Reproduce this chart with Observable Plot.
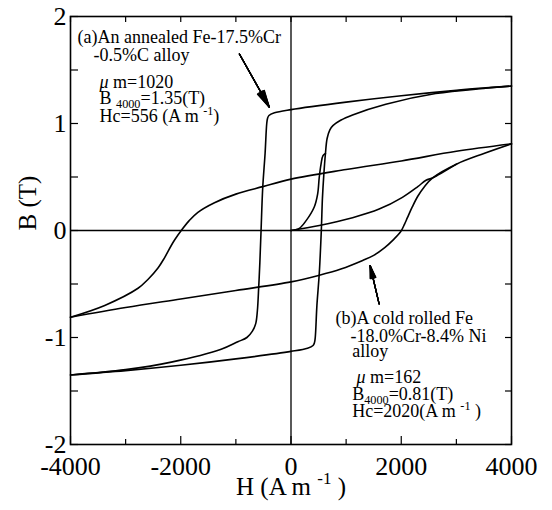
<!DOCTYPE html>
<html><head><meta charset="utf-8">
<script src="https://cdn.jsdelivr.net/npm/d3@7"></script>
<script src="https://cdn.jsdelivr.net/npm/@observablehq/plot@0.6"></script>
<style>body{margin:0;background:#fff} #chart{width:552px;height:510px} svg text{font-family:'Liberation Serif','Times New Roman',serif}</style>
</head><body><div id="chart"></div>
<script>
// ---- data (H in A/m, B in T) ----
// (a) annealed Fe-17.5%Cr-0.5%C : descending branch
const loopA_down = [[4000,1.35],[3000,1.31],[2000,1.26],[1000,1.20],[0,1.13],[-300,1.10],[-400,1.075],[-425,1.05],[-440,1.0],[-470,0.72],[-513,0.40],[-543,0.0],[-565,-0.30],[-585,-0.52],[-610,-0.75],[-640,-0.87],[-700,-0.94],[-800,-1.0],[-965,-1.04],[-1267,-1.11],[-2172,-1.23],[-3000,-1.30],[-4000,-1.35]];
// (a) ascending branch
const loopA_up = [[-4000,-1.35],[-3000,-1.31],[-2000,-1.26],[-1000,-1.20],[0,-1.13],[300,-1.10],[400,-1.075],[425,-1.05],[440,-1.0],[470,-0.70],[513,-0.40],[550,0.0],[570,0.30],[595,0.52],[625,0.72],[655,0.86],[705,0.94],[760,0.98],[900,1.03],[1117,1.08],[1720,1.18],[2624,1.28],[3530,1.33],[4000,1.35]];
// (a) initial magnetisation curve
const loopA_init = [[0,0],[150,0.02],[271,0.09],[422,0.22],[483,0.34],[513,0.50],[545,0.62],[580,0.70],[625,0.72]];
// (b) cold rolled Fe-18.0%Cr-8.4%Ni : descending branch
const loopB_down = [[4000,0.81],[3000,0.74],[2000,0.65],[1000,0.57],[0,0.48],[-513,0.41],[-1000,0.34],[-1388,0.26],[-1689,0.17],[-1850,0.09],[-1991,0.0],[-2100,-0.08],[-2172,-0.14],[-2300,-0.26],[-2413,-0.35],[-2600,-0.46],[-2775,-0.54],[-3379,-0.70],[-4000,-0.81]];
// (b) ascending branch
const loopB_up = [[-4000,-0.81],[-3000,-0.72],[-2000,-0.64],[-1000,-0.56],[0,-0.48],[500,-0.42],[905,-0.36],[1300,-0.28],[1508,-0.23],[1700,-0.16],[1850,-0.09],[1991,-0.01],[2060,0.06],[2112,0.12],[2200,0.22],[2300,0.32],[2420,0.41],[2564,0.49],[3000,0.62],[3500,0.72],[4000,0.81]];
// (b) initial magnetisation curve
const loopB_init = [[0,0],[513,0.047],[1117,0.12],[1599,0.20],[2021,0.31],[2300,0.41],[2450,0.47],[2564,0.49],[3000,0.62]];

// axis ticks
const xTickLabels = [-4000,-2000,0,2000,4000];
const xMinorTicks = [-3000,-1000,1000,3000];
const yTickLabels = [-2,-1,0,1,2];
const yHalfTicks = [-1.5,-0.5,0.5,1.5];

// annotations (data coordinates)
const noteA = ["(a)An annealed Fe-17.5%Cr","-0.5%C alloy","μ m=1020","B _{4000}=1.35(T)","Hc=556 (A m ^{-1})"];
const noteA_H = [-3873,-3583,-3474,-3474,-3474];
const noteA_B = [1.81,1.635,1.39,1.24,1.065];
const noteB = ["(b)A cold rolled Fe","-18.0%Cr-8.4% Ni","alloy","μ m=162","B_{4000}=0.81(T)","Hc=2020(A m ^{-1} )"];
const noteB_H = [807,1079,1110,1188,1110,1110];
const noteB_B = [-0.82,-0.986,-1.13,-1.37,-1.53,-1.69];
const arrowsFrom = [[-936,1.65],[1598,-0.685]];
const arrowsTo = [[-393,1.152],[1435,-0.327]];

// ---- build tables ----
const branches = {loopA_down, loopA_up, loopA_init, loopB_down, loopB_up, loopB_init};
const rows = Object.entries(branches).flatMap(([k, pts]) => pts.map(([H,B]) => ({H, B, branch: k})));
const notes = [
  ...noteA.map((t,i) => ({t, H: noteA_H[i], B: noteA_B[i]})),
  ...noteB.map((t,i) => ({t, H: noteB_H[i], B: noteB_B[i]}))
];
const arrows = arrowsFrom.map((f,i) => ({x1: f[0], y1: f[1], x2: arrowsTo[i][0], y2: arrowsTo[i][1]}));

const W = 552, HGT = 510, mL = 70, mR = 41, mT = 16, mB = 66;
const pw = W - mL - mR, ph = HGT - mT - mB;
const FONT = "Liberation Serif";

const headAngles = [3,7,11,15,19,23,26];

const chart = Plot.plot({
  width: W, height: HGT,
  marginLeft: mL, marginRight: mR, marginTop: mT, marginBottom: mB,
  style: {fontFamily: FONT, background: "#fff", color: "#000"},
  x: {domain: [-4000, 4000]},
  y: {domain: [-2, 2]},
  marks: [
    Plot.ruleY([0], {stroke: "#000", strokeWidth: 1.3}),
    Plot.ruleX([0], {stroke: "#000", strokeWidth: 1.3}),
    // inward ticks
    Plot.tickX(xTickLabels, {x: d => d, insetTop: ph - 8, stroke: "#000", strokeWidth: 1.2}),
    Plot.tickX(xMinorTicks, {x: d => d, insetTop: ph - 5, stroke: "#000", strokeWidth: 1.2}),
    Plot.tickX(xTickLabels.concat(xMinorTicks), {x: d => d, insetBottom: ph - 6, stroke: "#000", strokeWidth: 1.2}),
    Plot.tickY(yTickLabels.concat(yHalfTicks), {y: d => d, insetRight: pw - 8, stroke: "#000", strokeWidth: 1.2}),
    Plot.tickY(yTickLabels.concat(yHalfTicks), {y: d => d, insetLeft: pw - 6, stroke: "#000", strokeWidth: 1.2}),
    Plot.frame({stroke: "#000", strokeWidth: 1.6}),
    Plot.axisX({ticks: xTickLabels, tickSize: 0, tickPadding: 12, fontSize: 26, fontFamily: FONT, tickFormat: d => String(d), label: null}),
    Plot.axisY({ticks: yTickLabels, tickSize: 0, tickPadding: 4, fontSize: 26, fontFamily: FONT, tickFormat: d => String(d), label: null}),
    Plot.line(rows, {x: "H", y: "B", z: "branch", curve: "catmull-rom", stroke: "#000", strokeWidth: 1.6}),
    ...headAngles.map(a => Plot.arrow(arrows, {x1: "x1", y1: "y1", x2: "x2", y2: "y2", headAngle: a, headLength: 22, stroke: "#000", strokeWidth: 1.2})),
    Plot.text(notes, {x: "H", y: "B", text: "t", textAnchor: "start", fontSize: 18, fontFamily: FONT, fill: "#000"}),
    Plot.text(["B (T)"], {frameAnchor: "left", dx: -43, rotate: -90, fontSize: 25, fontFamily: FONT, fill: "#000"}),
    Plot.text(["H (A m ^{-1} )"], {frameAnchor: "bottom", dy: 50, fontSize: 25, fontFamily: FONT, fill: "#000"})
  ]
});
document.getElementById("chart").appendChild(chart);

// rich text: sub/superscripts and italic mu
d3.select(chart).selectAll("text").each(function() {
  const node = this;
  const s = node.textContent;
  if (!/[_^]\{|μ/.test(s)) return;
  const fs = parseFloat(getComputedStyle(node).fontSize) || 18;
  node.textContent = "";
  const sel = d3.select(node);
  const re = /([_^])\{([^}]*)\}|μ|[^_^μ]+/g;
  let m, shift = 0;
  while ((m = re.exec(s))) {
    if (m[1]) {
      const d = m[1] === "_" ? 0.25 * fs : -0.42 * fs;
      sel.append("tspan").attr("dy", d - shift).attr("font-size", 0.68 * fs).text(m[2]);
      shift = d;
    } else {
      const t = sel.append("tspan").attr("dy", -shift).text(m[0]);
      if (m[0] === "μ") t.attr("font-style", "italic");
      shift = 0;
    }
  }
});
</script>
</body></html>
